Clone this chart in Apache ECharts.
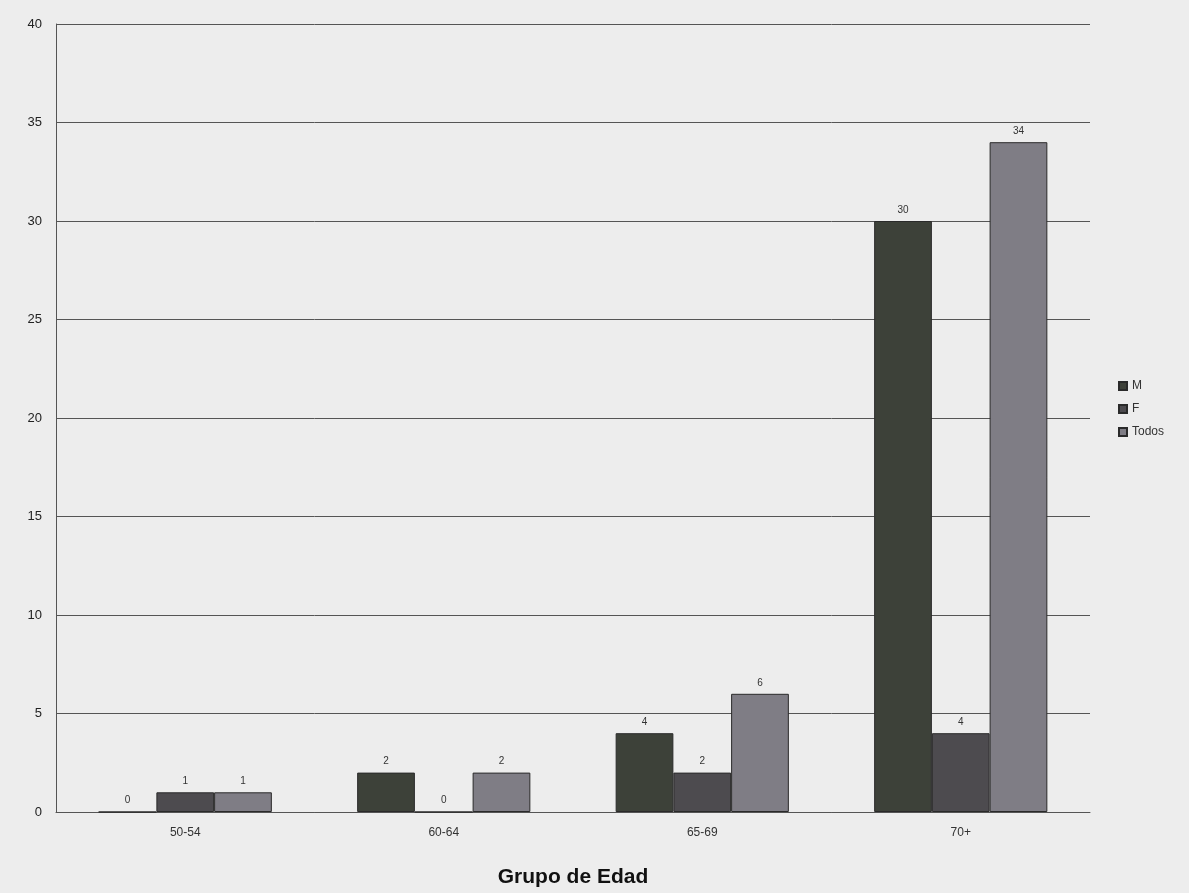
<!DOCTYPE html>
<html>
<head>
<meta charset="utf-8">
<script src="https://cdn.jsdelivr.net/npm/echarts@6/dist/echarts.min.js"></script>
<style>html,body{margin:0;padding:0;background:#ededed;}#c{width:1189px;height:893px;}</style>
</head>
<body>
<div id="c"></div>
<script>
const categories = ['50-54', '60-64', '65-69', '70+'];
const seriesM = [0, 2, 4, 30];
const seriesF = [1, 0, 2, 4];
const seriesTodos = [1, 2, 6, 34];
const yTicks = { min: 0, max: 40, interval: 5 };

const chart = echarts.init(document.getElementById('c'));
const labelStyle = { show: true, position: 'top', distance: 6, fontSize: 10, color: '#333', fontFamily: 'Liberation Sans, Arial, sans-serif' };
function bar(name, data, color) {
  return {
    name: name, type: 'bar', data: data, barGap: '0%', barCategoryGap: '33%',
    itemStyle: { color: color, borderColor: '#2a2a2a', borderWidth: 1 },
    label: labelStyle
  };
}
chart.setOption({
  backgroundColor: '#ededed',
  animation: false,
  grid: { left: 56, right: 99, top: 24, bottom: 80 },
  legend: {
    orient: 'vertical', left: 1113, top: 375, itemWidth: 8, itemHeight: 8, itemGap: 11,
    textStyle: { fontSize: 12, color: '#333', fontFamily: 'Liberation Sans, Arial, sans-serif' },
    data: ['M', 'F', 'Todos'], icon: 'rect'
  },
  xAxis: {
    type: 'category', data: categories,
    name: 'Grupo de Edad', nameLocation: 'middle', nameGap: 55,
    nameTextStyle: { fontSize: 21, fontWeight: 'bold', color: '#111', fontFamily: 'Liberation Sans, Arial, sans-serif' },
    axisLine: { lineStyle: { color: '#555' } },
    axisTick: { show: false },
    axisLabel: { fontSize: 12, color: '#333', margin: 15, fontFamily: 'Liberation Sans, Arial, sans-serif' }
  },
  yAxis: {
    type: 'value', min: yTicks.min, max: yTicks.max, interval: yTicks.interval,
    axisLine: { show: true, lineStyle: { color: '#555' } },
    axisTick: { show: false },
    splitLine: { lineStyle: { color: '#555', width: 1 } },
    axisLabel: { fontSize: 13, color: '#222', margin: 14, fontFamily: 'Liberation Sans, Arial, sans-serif' }
  },
  series: [
    bar('M', seriesM, '#3d4139'),
    bar('F', seriesF, '#4d4b4f'),
    bar('Todos', seriesTodos, '#7f7d85')
  ]
});
</script>
</body>
</html>
